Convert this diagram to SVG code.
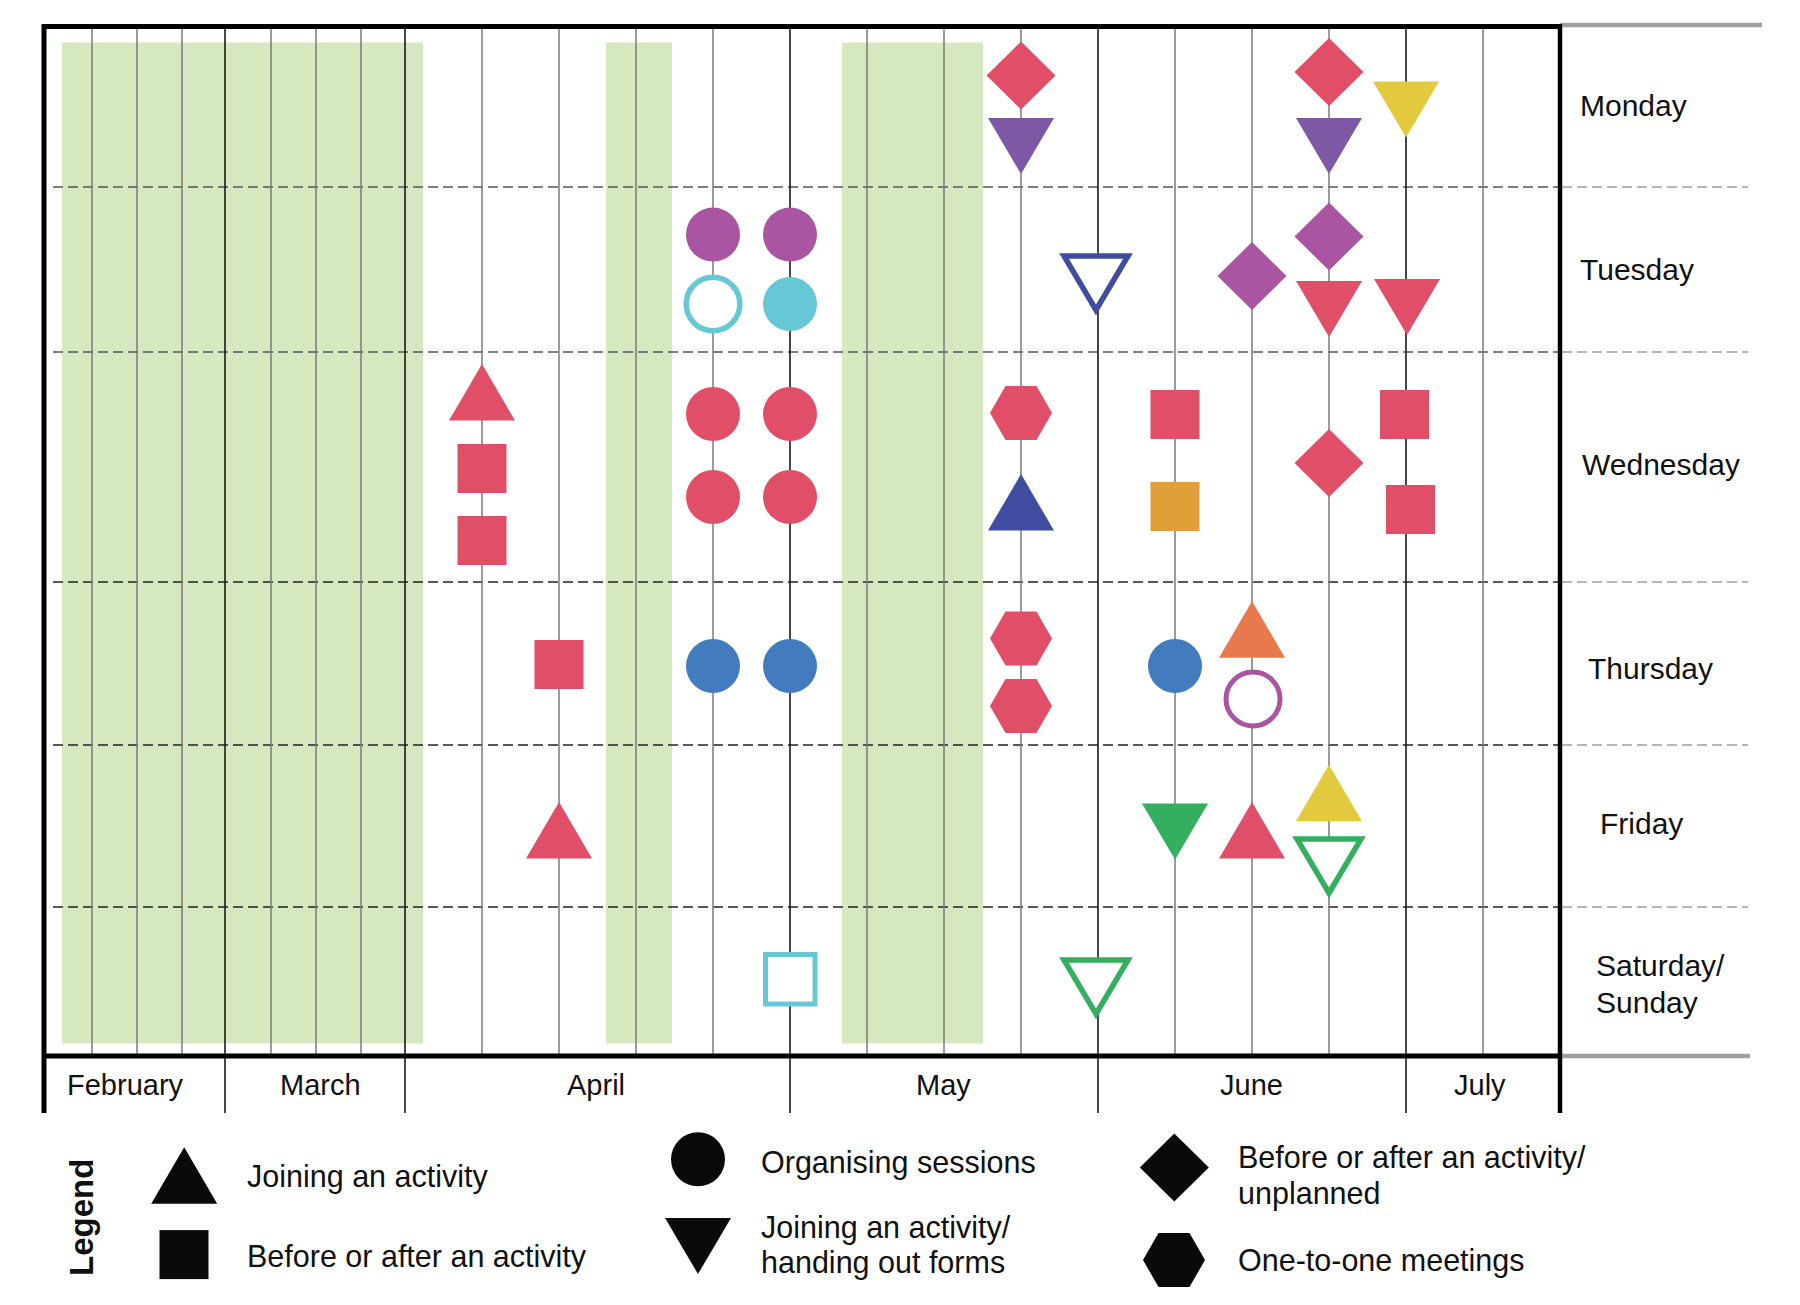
<svg xmlns="http://www.w3.org/2000/svg" xmlns:xlink="http://www.w3.org/1999/xlink" width="1800" height="1305" viewBox="0 0 1800 1305">
<style>
.t{font-family:"Liberation Sans",Arial,Helvetica,sans-serif;font-size:30px;fill:#111}
.lg{font-size:30.5px}
.m{font-size:29px}
.vg{stroke:#7a7a7a;stroke-width:1.5}
.vd{stroke:#1a1a1a;stroke-width:1.6}
.dash{stroke:#555;stroke-width:1.4;stroke-dasharray:10 5;fill:none}
.dashk{stroke:#222;stroke-width:1.6;stroke-dasharray:10 5;fill:none}
.dash2{stroke:#a0a0a0;stroke-width:1.5;stroke-dasharray:10 5;fill:none}
.frame{stroke:#000;stroke-width:5;fill:none}
.grey{stroke:#a0a0a0;stroke-width:4.5}
.shade{fill:#d6e8bf}
.red{fill:#e14e67}
.pur{fill:#a955a1}
.vio{fill:#7e57a5}
.yel{fill:#e3c93d}
.cya{fill:#65c8d4}
.blu{fill:#427bbe}
.dbl{fill:#3f4c9f}
.ora{fill:#e19f3a}
.orr{fill:#e8794c}
.grn{fill:#33af5f}
.blk{fill:#0a0a0a}
.ol{fill:#fff;stroke-width:5.5;stroke-miterlimit:10}
</style>
<defs>
<path id="dia" d="M0,-34 L34.5,0 L0,34 L-34.5,0Z"/>
<path id="up" d="M0,-28.3 L33,28.3 L-33,28.3Z"/>
<path id="dn" d="M-33,-28 L33,-28 L0,28Z"/>
<path id="dno" d="M-32,-27 L32,-27 L0,27Z"/>
<path id="hex" d="M-31,0 L-15.5,-27 L15.5,-27 L31,0 L15.5,27 L-15.5,27Z"/>
<rect id="sq" x="-24.5" y="-24.5" width="49" height="49"/>
<circle id="ci" r="27"/>
</defs>

<g id="shading">
<rect class="shade" x="62" y="42.5" width="361" height="1001"/>
<rect class="shade" x="606" y="42.5" width="66" height="1001"/>
<rect class="shade" x="842" y="42.5" width="141" height="1001"/>
</g>

<g id="connectors">
<g id="day-separators">
<line class="dash" x1="53" y1="187" x2="1560" y2="187"/>
<line class="dash" x1="53" y1="352" x2="1560" y2="352"/>
<line class="dashk" x1="53" y1="582" x2="1560" y2="582"/>
<line class="dashk" x1="53" y1="745" x2="1560" y2="745"/>
<line class="dashk" x1="53" y1="907" x2="1560" y2="907"/>
<line class="dash2" x1="1562" y1="187" x2="1748" y2="187"/>
<line class="dash2" x1="1562" y1="352" x2="1748" y2="352"/>
<line class="dash2" x1="1562" y1="582" x2="1748" y2="582"/>
<line class="dash2" x1="1562" y1="745" x2="1748" y2="745"/>
<line class="dash2" x1="1562" y1="907" x2="1748" y2="907"/>
</g>
<g id="week-lines">
<line class="vg" x1="92" y1="28" x2="92" y2="1056"/>
<line class="vg" x1="137" y1="28" x2="137" y2="1056"/>
<line class="vg" x1="182" y1="28" x2="182" y2="1056"/>
<line class="vg" x1="271" y1="28" x2="271" y2="1056"/>
<line class="vg" x1="316" y1="28" x2="316" y2="1056"/>
<line class="vg" x1="361" y1="28" x2="361" y2="1056"/>
<line class="vg" x1="482" y1="28" x2="482" y2="1056"/>
<line class="vg" x1="559" y1="28" x2="559" y2="1056"/>
<line class="vg" x1="636" y1="28" x2="636" y2="1056"/>
<line class="vg" x1="713" y1="28" x2="713" y2="1056"/>
<line class="vg" x1="867" y1="28" x2="867" y2="1056"/>
<line class="vg" x1="944" y1="28" x2="944" y2="1056"/>
<line class="vg" x1="1021" y1="28" x2="1021" y2="1056"/>
<line class="vg" x1="1175" y1="28" x2="1175" y2="1056"/>
<line class="vg" x1="1252" y1="28" x2="1252" y2="1056"/>
<line class="vg" x1="1329" y1="28" x2="1329" y2="1056"/>
<line class="vg" x1="1483" y1="28" x2="1483" y2="1056"/>
</g>
<g id="month-lines">
<line class="vd" x1="225" y1="28" x2="225" y2="1113"/>
<line class="vd" x1="405" y1="28" x2="405" y2="1113"/>
<line class="vd" x1="790" y1="28" x2="790" y2="1113"/>
<line class="vd" x1="1098" y1="28" x2="1098" y2="1113"/>
<line class="vd" x1="1406" y1="28" x2="1406" y2="1113"/>
</g>
</g>

<g id="frame">
<line class="grey" x1="1560" y1="25" x2="1762" y2="25"/>
<line class="grey" x1="1560" y1="1056" x2="1750" y2="1056"/>
<line class="frame" x1="44" y1="26.5" x2="1560" y2="26.5"/>
<line class="frame" x1="44" y1="1056" x2="1560" y2="1056"/>
<line class="frame" x1="44" y1="24" x2="44" y2="1113"/>
<line class="frame" x1="1560" y1="24" x2="1560" y2="1113" style="stroke-width:4.5"/>
</g>

<g id="markers">
<g id="monday">
<use href="#dia" class="red" x="1021" y="75.5"/>
<use href="#dn" class="vio" x="1021" y="146"/>
<use href="#dia" class="red" x="1329" y="72"/>
<use href="#dn" class="vio" x="1329" y="146"/>
<use href="#dn" class="yel" x="1406" y="109.5"/>
</g>
<g id="tuesday">
<use href="#ci" class="pur" x="713" y="234.6"/>
<circle cx="713" cy="304" r="26.8" fill="#fff" stroke="#65c8d4" stroke-width="5.5"/>
<use href="#ci" class="pur" x="790" y="234.6"/>
<use href="#ci" class="cya" x="790" y="304"/>
<use href="#dno" x="1096" y="283" class="ol" stroke="#3f4c9f"/>
<use href="#dia" class="pur" x="1252" y="276"/>
<use href="#dia" class="pur" x="1329" y="236.5"/>
<use href="#dn" class="red" x="1329" y="309"/>
<use href="#dn" class="red" x="1407" y="307"/>
</g>
<g id="wednesday">
<use href="#up" class="red" x="482" y="392.3"/>
<use href="#sq" class="red" x="482" y="468.5"/>
<use href="#sq" class="red" x="482" y="540.5"/>
<use href="#ci" class="red" x="713" y="414"/>
<use href="#ci" class="red" x="713" y="497"/>
<use href="#ci" class="red" x="790" y="414"/>
<use href="#ci" class="red" x="790" y="497"/>
<use href="#hex" class="red" x="1021" y="413"/>
<use href="#up" class="dbl" x="1021" y="502.3"/>
<use href="#sq" class="red" x="1175" y="414.5"/>
<use href="#sq" class="ora" x="1175" y="506.5"/>
<use href="#dia" class="red" x="1329" y="463"/>
<use href="#sq" class="red" x="1404.5" y="414.5"/>
<use href="#sq" class="red" x="1410.5" y="509.5"/>
</g>
<g id="thursday">
<use href="#sq" class="red" x="559" y="664.5"/>
<use href="#ci" class="blu" x="713" y="666"/>
<use href="#ci" class="blu" x="790" y="666"/>
<use href="#hex" class="red" x="1021" y="638.6"/>
<use href="#hex" class="red" x="1021" y="706"/>
<use href="#ci" class="blu" x="1175" y="666"/>
<use href="#up" class="orr" x="1252" y="629.5"/>
<circle cx="1253" cy="699" r="27" fill="#fff" stroke="#a955a1" stroke-width="5"/>
</g>
<g id="friday">
<use href="#up" class="red" x="559" y="830.3"/>
<use href="#dn" class="grn" x="1175" y="831.5"/>
<use href="#up" class="red" x="1252" y="830.3"/>
<use href="#up" class="yel" x="1329" y="793"/>
<use href="#dno" x="1329" y="866" class="ol" stroke="#33af5f"/>
</g>
<g id="weekend">
<rect x="765.5" y="954.5" width="49.5" height="49.5" fill="#fff" stroke="#65c8d4" stroke-width="5"/>
<use href="#dno" x="1096" y="987" class="ol" stroke="#33af5f"/>
</g>
</g>

<g id="day-labels" class="t">
<text x="1580" y="116">Monday</text>
<text x="1580" y="280">Tuesday</text>
<text x="1582" y="475">Wednesday</text>
<text x="1588" y="679">Thursday</text>
<text x="1600" y="834">Friday</text>
<text x="1596" y="976">Saturday/</text>
<text x="1596" y="1013">Sunday</text>
</g>

<g id="month-labels" class="t m">
<text x="67" y="1095">February</text>
<text x="280" y="1095">March</text>
<text x="567" y="1095">April</text>
<text x="916" y="1095">May</text>
<text x="1220" y="1095">June</text>
<text x="1454" y="1095">July</text>
</g>

<g id="legend">
<text class="t" x="0" y="0" transform="translate(93,1276) rotate(-90)" style="font-size:33px;font-weight:bold">Legend</text>
<g id="legend-joining">
<use href="#up" class="blk" x="184.2" y="1175.5"/>
<text class="t lg" x="247" y="1187">Joining an activity</text>
</g>
<g id="legend-before-after">
<use href="#sq" class="blk" x="184" y="1254.6"/>
<text class="t lg" x="247" y="1267">Before or after an activity</text>
</g>
<g id="legend-organising">
<use href="#ci" class="blk" x="698" y="1159.3"/>
<text class="t lg" x="761" y="1173">Organising sessions</text>
</g>
<g id="legend-forms">
<use href="#dn" class="blk" x="698" y="1246"/>
<text class="t lg" x="761" y="1237.5">Joining an activity/</text>
<text class="t lg" x="761" y="1273">handing out forms</text>
</g>
<g id="legend-unplanned">
<use href="#dia" class="blk" x="1174.3" y="1167.5"/>
<text class="t lg" x="1238" y="1168">Before or after an activity/</text>
<text class="t lg" x="1238" y="1204">unplanned</text>
</g>
<g id="legend-one-to-one">
<use href="#hex" class="blk" x="1174" y="1260"/>
<text class="t lg" x="1238" y="1271">One-to-one meetings</text>
</g>
</g>
</svg>
